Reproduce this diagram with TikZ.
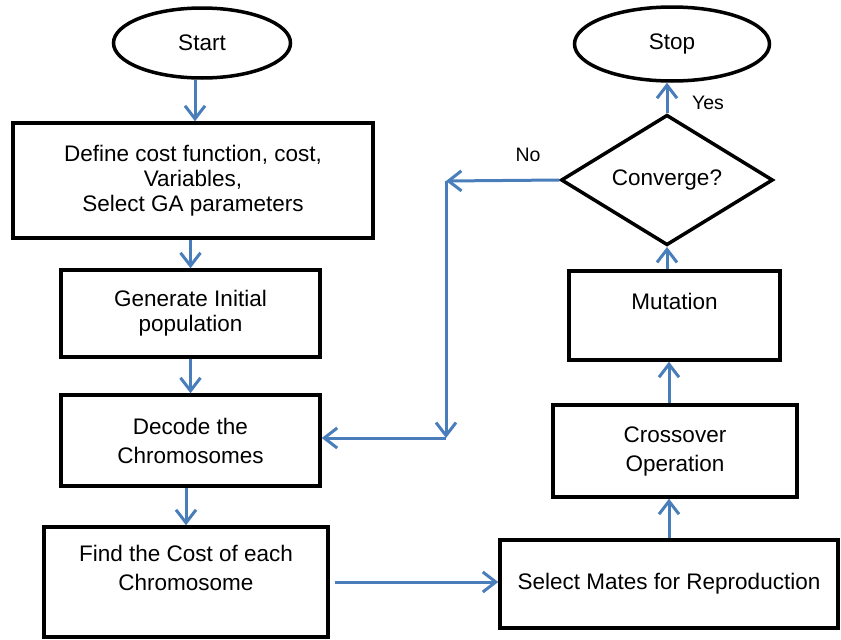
\documentclass[tikz,border=0pt]{standalone}
\usepackage{fontspec}
\setmainfont{Liberation Sans}
\usetikzlibrary{shapes.geometric,arrows.meta}

\definecolor{flowblue}{RGB}{74,126,187}
\newcommand{\boxfont}{\fontsize{22.5}{29}\selectfont}
\newcommand{\tightfont}{\fontsize{22.5}{25}\selectfont}

\tikzset{every picture/.style={line width=3.5pt}}
\tikzset{
  term/.style={draw=black, ellipse, inner sep=0pt, font=\boxfont},
  proc/.style={draw=black, rectangle, inner sep=0pt, align=center, font=\boxfont},
  decide/.style={draw=black, diamond, inner sep=0pt, font=\boxfont},
  flow/.style={draw=flowblue, line width=3pt, -{Straight Barb[length=13pt,width=20pt]}},
  lbl/.style={inner sep=0pt, font=\fontsize{19.5}{22}\selectfont}
}

\begin{document}
\begin{tikzpicture}[x=1pt,y=-1pt]
\useasboundingbox (0,0) rectangle (841,640);

%Terminals
\node[term, minimum width=177pt, minimum height=70pt] (start) at (202,43) {Start};
\node[term, minimum width=195pt, minimum height=74pt] (stop) at (672,44) {Stop};

%Left column
\node[proc, font=\tightfont, minimum width=360pt, minimum height=115pt] (define) at (193,180.5) {Define cost function, cost,\\Variables,\\Select GA parameters};
\node[proc, font=\tightfont, minimum width=259pt, minimum height=87pt] (gen) at (190.5,313.5) {Generate Initial\\population};
\node[proc, minimum width=259pt, minimum height=91pt] (dec) at (190.5,440.5) {Decode the\\Chromosomes};
\node[proc, minimum width=284pt, minimum height=110pt] (cost) at (186,582) {Find the Cost of each\\Chromosome\\\mbox{}};

%Right column
\node[proc, minimum width=338pt, minimum height=88pt] (mates) at (669,584) {Select Mates for Reproduction};
\node[proc, minimum width=244pt, minimum height=92pt] (cross) at (675,451) {Crossover\\Operation};
\node[proc, minimum width=211pt, minimum height=89pt] (mut) at (674.5,315.5) {Mutation\\\mbox{}};
\node[decide, minimum width=212pt, minimum height=100pt] (conv) at (667,180) {Converge?};

%No loop
\coordinate (nocorner) at (446,181);
\coordinate (nojoin) at (446,438);

%Arrows
\draw[flow] ([xshift=-7pt]start.south) -- ([xshift=-7pt]start.south |- define.north);
\draw[flow] (gen.north |- define.south) -- (gen.north);
\draw[flow] (gen.south) -- (gen.south |- dec.north);
\draw[flow] (cost.north |- dec.south) -- (cost.north);
\draw[flow, shorten <=5pt] (cost.east) -- (cost.east -| mates.west);
\draw[flow] (mates.north) -- (mates.north |- cross.south);
\draw[flow] (mates.north |- cross.north) -- (mates.north |- mut.south);
\draw[flow] (conv.south |- mut.north) -- (conv.south);
\draw[flow] (conv.north) -- (conv.north |- stop.south);
\draw[flow] (conv.west) -- (nocorner);
\draw[flow] (nocorner) -- (nojoin);
\draw[flow] (nojoin) -- (nojoin -| dec.east);

% Text Node
\node[lbl] (yes) at (708,103) {Yes};
\node[lbl] (no) at (528,155) {No};

\end{tikzpicture}
\end{document}
